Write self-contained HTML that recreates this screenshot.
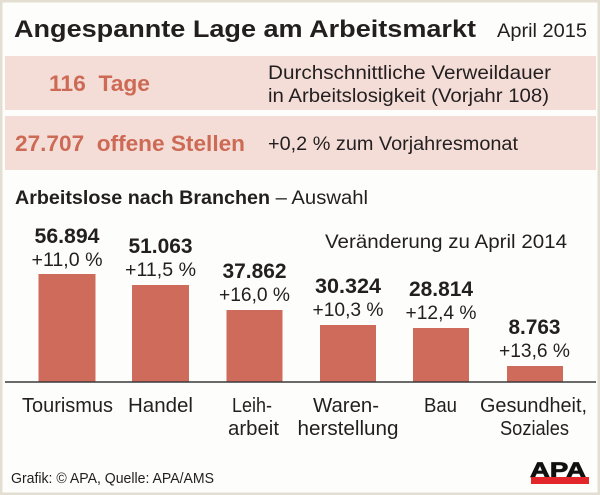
<!DOCTYPE html>
<html>
<head>
<meta charset="utf-8">
<style>
html,body{margin:0;padding:0;background:#fff;}
svg{display:block;}
text{font-family:"Liberation Sans",Arial,sans-serif;fill:#231f20;}
.b{font-weight:bold;}
.s{fill:#cd6a55;}
</style>
</head>
<body>
<svg width="600" height="495" viewBox="0 0 600 495" xmlns="http://www.w3.org/2000/svg">
  <rect x="0" y="0" width="600" height="495" fill="#fdfdfb"/>
  <rect x="1" y="1" width="598" height="493" fill="none" stroke="#e2ded2" stroke-width="3"/>

  <!-- Title -->
  <text class="b" x="14" y="37" font-size="24" textLength="462" lengthAdjust="spacingAndGlyphs">Angespannte Lage am Arbeitsmarkt</text>
  <text x="497" y="37" font-size="19" textLength="90" lengthAdjust="spacingAndGlyphs">April 2015</text>

  <!-- Panels -->
  <rect x="5" y="56" width="591" height="54" fill="#f4ddd7"/>
  <rect x="5" y="116" width="591" height="54" fill="#f4ddd7"/>

  <text class="b s" x="49" y="91" font-size="22" textLength="101" lengthAdjust="spacingAndGlyphs" xml:space="preserve">116  Tage</text>
  <text x="268" y="79" font-size="19" textLength="283" lengthAdjust="spacingAndGlyphs">Durchschnittliche Verweildauer</text>
  <text x="268" y="102" font-size="19" textLength="281" lengthAdjust="spacingAndGlyphs">in Arbeitslosigkeit (Vorjahr 108)</text>

  <text class="b s" x="15" y="151" font-size="22" textLength="230" lengthAdjust="spacingAndGlyphs" xml:space="preserve">27.707  offene Stellen</text>
  <text x="268" y="150" font-size="19" textLength="250" lengthAdjust="spacingAndGlyphs">+0,2 % zum Vorjahresmonat</text>

  <!-- Subtitle -->
  <text class="b" x="15" y="204" font-size="19" textLength="255" lengthAdjust="spacingAndGlyphs">Arbeitslose nach Branchen</text>
  <text x="270" y="204" font-size="19" textLength="98" lengthAdjust="spacingAndGlyphs" xml:space="preserve"> – Auswahl</text>

  <text x="325" y="248" font-size="19.5" textLength="242" lengthAdjust="spacingAndGlyphs">Veränderung zu April 2014</text>

  <!-- Bars -->
  <g fill="#cf6b5a">
    <rect x="38.5" y="274" width="57" height="108"/>
    <rect x="132" y="285" width="57" height="97"/>
    <rect x="226.5" y="310" width="56" height="72"/>
    <rect x="320" y="325" width="56" height="57"/>
    <rect x="413" y="328" width="56" height="54"/>
    <rect x="507" y="366" width="56" height="16"/>
  </g>
  <line x1="5" y1="382" x2="596" y2="382" stroke="#3a3a3a" stroke-width="1.5"/>

  <!-- Values -->
  <g text-anchor="middle">
    <text class="b" x="67" y="243" font-size="21" textLength="65" lengthAdjust="spacingAndGlyphs">56.894</text>
    <text x="67" y="266" font-size="19" textLength="71" lengthAdjust="spacingAndGlyphs">+11,0 %</text>

    <text class="b" x="160.5" y="253" font-size="21" textLength="64" lengthAdjust="spacingAndGlyphs">51.063</text>
    <text x="160.5" y="276" font-size="19" textLength="71" lengthAdjust="spacingAndGlyphs">+11,5 %</text>

    <text class="b" x="254.5" y="278" font-size="21" textLength="64" lengthAdjust="spacingAndGlyphs">37.862</text>
    <text x="254.5" y="301" font-size="19" textLength="71" lengthAdjust="spacingAndGlyphs">+16,0 %</text>

    <text class="b" x="348" y="293" font-size="21" textLength="66" lengthAdjust="spacingAndGlyphs">30.324</text>
    <text x="348" y="316" font-size="19" textLength="71" lengthAdjust="spacingAndGlyphs">+10,3 %</text>

    <text class="b" x="441" y="296" font-size="21" textLength="64" lengthAdjust="spacingAndGlyphs">28.814</text>
    <text x="441" y="319" font-size="19" textLength="71" lengthAdjust="spacingAndGlyphs">+12,4 %</text>

    <text class="b" x="534.5" y="334" font-size="21" textLength="52" lengthAdjust="spacingAndGlyphs">8.763</text>
    <text x="534.5" y="357" font-size="19" textLength="71" lengthAdjust="spacingAndGlyphs">+13,6 %</text>

    <!-- Categories -->
    <text x="67.5" y="412" font-size="20" textLength="91" lengthAdjust="spacingAndGlyphs">Tourismus</text>
    <text x="160.5" y="412" font-size="20" textLength="65" lengthAdjust="spacingAndGlyphs">Handel</text>
    <text x="252" y="412" font-size="20" textLength="40" lengthAdjust="spacingAndGlyphs">Leih-</text>
    <text x="253.5" y="435" font-size="20" textLength="51" lengthAdjust="spacingAndGlyphs">arbeit</text>
    <text x="346" y="412" font-size="20" textLength="66" lengthAdjust="spacingAndGlyphs">Waren-</text>
    <text x="348" y="435" font-size="20" textLength="101" lengthAdjust="spacingAndGlyphs">herstellung</text>
    <text x="440.5" y="412" font-size="20" textLength="33" lengthAdjust="spacingAndGlyphs">Bau</text>
    <text x="533.5" y="412" font-size="20" textLength="107" lengthAdjust="spacingAndGlyphs">Gesundheit,</text>
    <text x="534.5" y="435" font-size="20" textLength="69" lengthAdjust="spacingAndGlyphs">Soziales</text>
  </g>

  <!-- Footer -->
  <text x="11" y="483" font-size="15" textLength="203" lengthAdjust="spacingAndGlyphs">Grafik: © APA, Quelle: APA/AMS</text>

  <!-- APA logo -->
  <text class="b" x="530" y="477" font-size="21" textLength="56" lengthAdjust="spacingAndGlyphs" style="fill:#111;stroke:#111;stroke-width:0.8">APA</text>
  <rect x="531" y="477" width="58" height="7" fill="#e3262b"/>
</svg>
</body>
</html>
